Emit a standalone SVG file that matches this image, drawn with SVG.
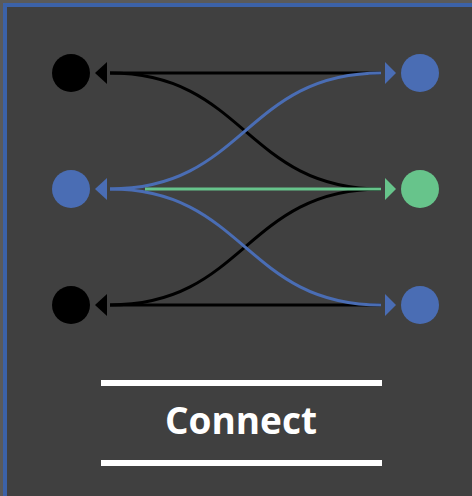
<svg xmlns="http://www.w3.org/2000/svg" width="472" height="496" viewBox="0 0 472 496">
<style>
.blk{stroke:#000;}
.blu{stroke:#4a6db4;}
.grn{stroke:#67c48b;}
.ln{fill:none;stroke-width:3;}
.nb{fill:#4a6db4;}
.ng{fill:#67c48b;}
.nk{fill:#000;}
.lbl{font-family:"Open Sans","Noto Sans",sans-serif;font-weight:bold;font-size:37px;fill:#fff;}
</style>
<rect x="0" y="0" width="472" height="496" fill="#5a5a5a"/>
<rect x="5" y="5" width="480" height="500" fill="#404040" stroke="#3c62a8" stroke-width="4"/>
<g id="connectors">
<path class="ln blk" d="M110,73 L381,73"/>
<path class="ln blk" d="M110,73 C245,73 245,189 381,189"/>
<path class="ln blk" d="M110,305 L381,305"/>
<path class="ln blk" d="M110,305 C245,305 245,189 381,189"/>
<path class="ln blu" d="M110,189 C245,189 245,73 381,73"/>
<path class="ln blu" d="M110,189 C245,189 245,305 381,305"/>
<path class="ln grn" d="M145,189 L381,189"/>
<polygon class="nk" points="95,73 107,62 107,84"/>
<polygon class="nb" points="95,189 107,178 107,200"/>
<polygon class="nk" points="95,305 107,294 107,316"/>
<polygon class="nb" points="396,73 385,62 385,84"/>
<polygon class="ng" points="396,189 385,178 385,200"/>
<polygon class="nb" points="396,305 385,294 385,316"/>
</g>
<g id="left-top"><circle class="nk" cx="71" cy="73" r="19"/></g>
<g id="left-mid"><circle class="nb" cx="71" cy="189" r="19"/></g>
<g id="left-bot"><circle class="nk" cx="71" cy="305" r="19"/></g>
<g id="right-top"><circle class="nb" cx="420" cy="73" r="19"/></g>
<g id="right-mid"><circle class="ng" cx="420" cy="189" r="19"/></g>
<g id="right-bot"><circle class="nb" cx="420" cy="305" r="19"/></g>
<g id="label">
<rect x="101" y="380" width="281" height="6" fill="#fff"/>
<rect x="101" y="460" width="281" height="6" fill="#fff"/>
<text class="lbl" x="241" y="434" text-anchor="middle">Connect</text>
</g>
</svg>
